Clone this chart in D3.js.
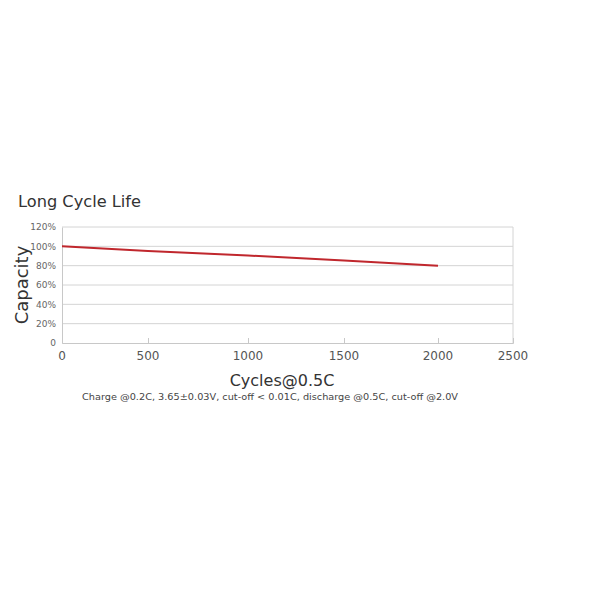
<!DOCTYPE html>
<html>
<head>
<meta charset="utf-8">
<script src="https://cdn.jsdelivr.net/npm/d3@7"></script>
<style>
  html, body { margin: 0; padding: 0; background: #fff; }
</style>
</head>
<body>
<div id="chart"></div>
<script>
// cycle life data
const cycles = [0, 500, 1000, 1500, 2000];
const capacity = [100, 95.2, 90.5, 85.3, 80];
const xTicks = [0, 500, 1000, 1500, 2000, 2500];
const yTicks = [0, 20, 40, 60, 80, 100, 120];

const width = 600;
const height = 600;
const font = "'DejaVu Sans', sans-serif";

const svg = d3.select("#chart").append("svg")
  .attr("width", width)
  .attr("height", height);

// the source image is slightly stretched, so the x ticks are not evenly spaced
const x = d3.scaleLinear()
  .domain(xTicks)
  .range([62, 148, 248, 344, 438, 513]);

const y = d3.scaleLinear()
  .domain([0, 120])
  .range([343, 227]);

// title
svg.append("text")
  .attr("x", 18)
  .attr("y", 207)
  .attr("textLength", 123)
  .attr("lengthAdjust", "spacingAndGlyphs")
  .style("font-family", font)
  .style("font-size", "15px")
  .style("fill", "#333")
  .text("Long Cycle Life");

// horizontal gridlines
svg.append("g")
  .selectAll("line")
  .data(yTicks.filter(d => d > 0))
  .join("line")
  .attr("x1", x(0))
  .attr("x2", x(2500))
  .attr("y1", d => y(d))
  .attr("y2", d => y(d))
  .attr("stroke", "#d4d4d4")
  .attr("stroke-width", 1);

// right border
svg.append("line")
  .attr("x1", x(2500)).attr("x2", x(2500))
  .attr("y1", y(120)).attr("y2", y(0))
  .attr("stroke", "#d4d4d4");

// y axis
const yAxis = svg.append("g")
  .attr("transform", `translate(${x(0)},0)`)
  .call(d3.axisLeft(y).tickValues(yTicks).tickSize(0).tickPadding(6)
    .tickFormat(d => d === 0 ? "0" : d + "%"));
yAxis.select(".domain").attr("stroke", "#c8c8c8");
yAxis.selectAll("text")
  .style("font-family", font)
  .style("font-size", "9px")
  .style("fill", "#666");

// x axis, ticks point up into the plot
const xAxis = svg.append("g")
  .attr("transform", `translate(0,${y(0)})`)
  .call(d3.axisTop(x).tickValues(xTicks).tickSize(5).tickFormat(""));
xAxis.select(".domain").attr("stroke", "#c8c8c8");
xAxis.selectAll(".tick line").attr("stroke", "#c8c8c8");

svg.append("g")
  .selectAll("text")
  .data(xTicks)
  .join("text")
  .attr("x", d => x(d))
  .attr("y", y(0) + 17)
  .attr("text-anchor", "middle")
  .style("font-family", font)
  .style("font-size", "12px")
  .style("fill", "#555")
  .text(d => d);

// capacity line
const line = d3.line()
  .x((d, i) => x(cycles[i]))
  .y(d => y(d));

svg.append("path")
  .datum(capacity)
  .attr("d", line)
  .attr("fill", "none")
  .attr("stroke", "#c0272d")
  .attr("stroke-width", 2);

// axis titles
svg.append("text")
  .attr("transform", `translate(28,${(y(0) + y(120)) / 2}) rotate(-90)`)
  .attr("text-anchor", "middle")
  .style("font-family", font)
  .style("font-size", "18px")
  .style("fill", "#333")
  .text("Capacity");

svg.append("text")
  .attr("x", 282)
  .attr("y", 386)
  .attr("text-anchor", "middle")
  .style("font-family", font)
  .style("font-size", "16px")
  .style("fill", "#333")
  .text("Cycles@0.5C");

// test condition note
svg.append("text")
  .attr("x", 270)
  .attr("y", 400)
  .attr("text-anchor", "middle")
  .attr("textLength", 376)
  .attr("lengthAdjust", "spacingAndGlyphs")
  .style("font-family", font)
  .style("font-size", "9.5px")
  .style("fill", "#444")
  .text("Charge @0.2C, 3.65±0.03V,  cut-off < 0.01C, discharge @0.5C, cut-off @2.0V");
</script>
</body>
</html>
